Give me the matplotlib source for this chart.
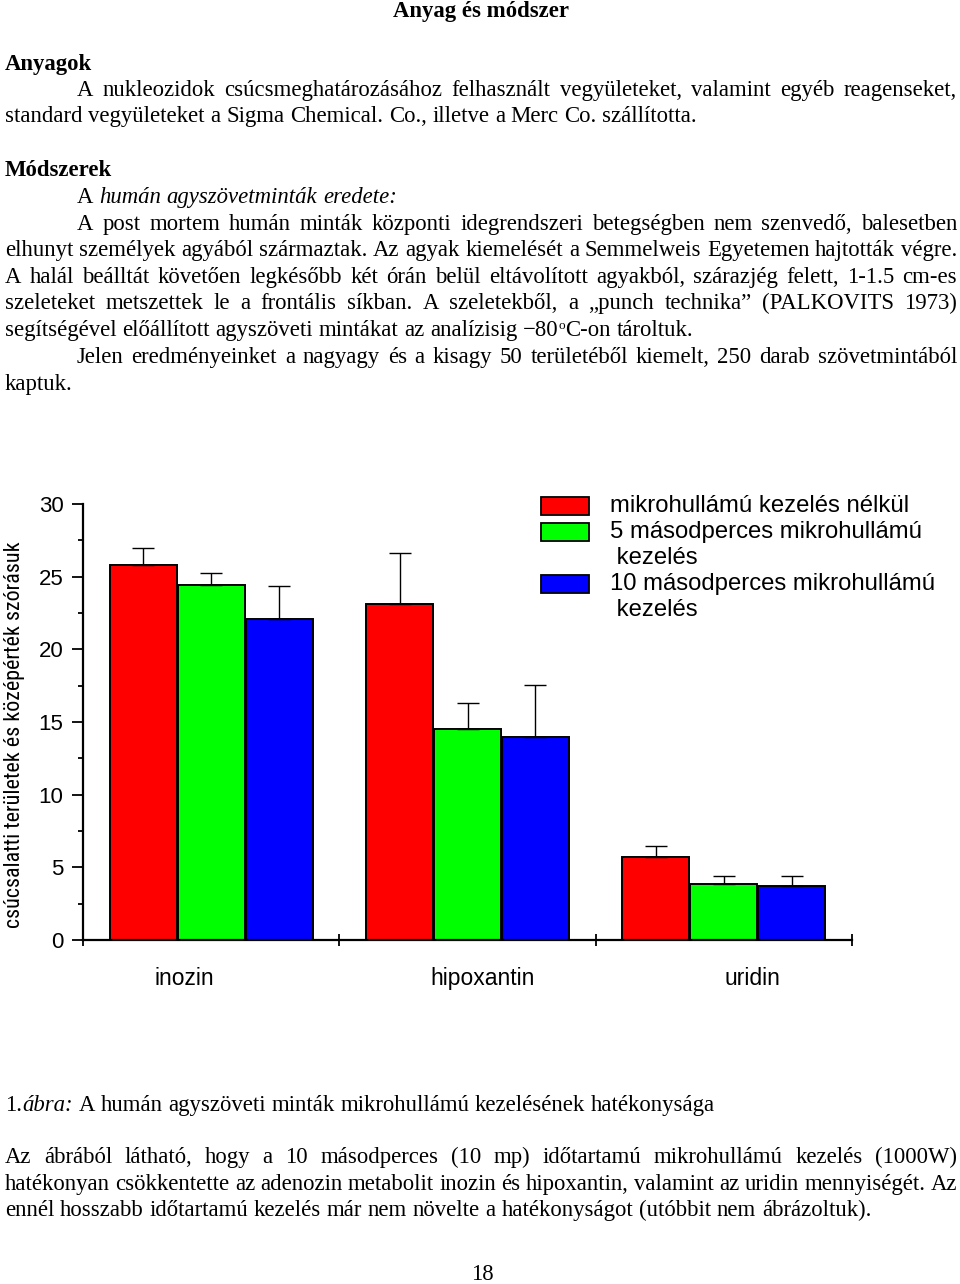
import matplotlib
matplotlib.use('Agg')
import matplotlib.pyplot as plt
from matplotlib.transforms import IdentityTransform
from matplotlib.patches import Rectangle
from matplotlib import font_manager
import numpy as np

# Adatok (az ábráról leolvasva)
groups = ['inozin', 'hipoxantin', 'uridin']
series = ['mikrohullámú kezelés nélkül',
          '5 másodperces mikrohullámú\n kezelés',
          '10 másodperces mikrohullámú\n kezelés']
red_vals = [25.8, 23.1, 5.7]
green_vals = [24.45, 14.5, 3.85]
blue_vals = [22.1, 14.0, 3.7]
red_err = [1.15, 3.55, 0.78]
green_err = [0.78, 1.78, 0.52]
blue_err = [2.23, 3.57, 0.67]
yticks = [0, 5, 10, 15, 20, 25, 30]
ylabel = 'csúcsalatti területek és középérték szórásuk'
colors = ['#ff0000', '#00ff00', '#0000ff']

W, H = 960, 1284
fig = plt.figure(figsize=(W / 100, H / 100), dpi=100)
ID = IdentityTransform()
SERIF = 'Liberation Serif'
SANS = 'Liberation Sans'
installed = {f.name for f in font_manager.fontManager.ttflist}
NARROW = SANS
for cand in ['Liberation Sans Narrow', 'DejaVu Sans Condensed', 'Roboto Condensed',
             'Open Sans Condensed']:
    if cand in installed:
        NARROW = cand
        break
plt.rcParams['font.family'] = SANS
BODY = 16.4
renderer = fig.canvas.get_renderer()
SPACE = 0.25 * BODY * 100 / 72


def put(x, y, s, style='normal', weight='normal', size=BODY, ha='left'):
    return fig.text(x, H - y, s, transform=ID, fontsize=size, family=SERIF,
                    style=style, weight=weight, ha=ha, va='baseline')


def wid(t):
    return t.get_window_extent(renderer).width


def tokens(text, style='normal'):
    return [(w, style, False) for w in text.split()]


def line(y, x0, toks, x1=None):
    # toks: (szo, stilus, hozzaragad)
    arts = []
    for w, st, join in toks:
        if st == 'sup':
            t = put(0, y - 7, w, size=BODY * 0.58)
        else:
            t = put(0, y, w, style=st)
        arts.append((t, join))
    widths = [wid(t) for t, _ in arts]
    nsp = sum(1 for _, j in arts[1:] if not j)
    gap = SPACE
    if x1 is not None and nsp > 0:
        gap = (x1 - x0 - sum(widths)) / nsp
    x = x0
    for i, ((t, join), w) in enumerate(zip(arts, widths)):
        if i > 0 and not join:
            x += gap
        t.set_x(x)
        x += w


# Szöveg felső rész
put(481, 17, 'Anyag és módszer', weight='bold', ha='center')
put(5, 70, 'Anyagok', weight='bold')
line(96, 77, tokens('A nukleozidok csúcsmeghatározásához felhasznált vegyületeket, valamint egyéb reagenseket,'), 957)
line(122, 5, tokens('standard vegyületeket a Sigma Chemical. Co., illetve a Merc Co. szállította.'))
put(5, 176, 'Módszerek', weight='bold')
line(203, 77, [('A', 'normal', False)] + tokens('humán agyszövetminták eredete:', 'italic'))
line(230, 77, tokens('A post mortem humán minták központi idegrendszeri betegségben nem szenvedő, balesetben'), 957)
line(256, 5, tokens('elhunyt személyek agyából származtak. Az agyak kiemelését a Semmelweis Egyetemen hajtották végre.'), 957)
line(283, 5, tokens('A halál beálltát követően legkésőbb két órán belül eltávolított agyakból, szárazjég felett, 1-1.5 cm-es'), 957)
line(309, 5, tokens('szeleteket metszettek le a frontális síkban. A szeletekből, a „punch technika” (PALKOVITS 1973)'), 957)
line(336, 5, tokens('segítségével előállított agyszöveti mintákat az analízisig −80')
     + [('o', 'sup', True), ('C-on', 'normal', True)] + tokens('tároltuk.'))
line(363, 77, tokens('Jelen eredményeinket a nagyagy és a kisagy 50 területéből kiemelt, 250 darab szövetmintából'), 957)
line(390, 5, tokens('kaptuk.'))

# Szöveg alsó rész
line(1111, 5, [('1.', 'normal', False), ('ábra:', 'italic', True)]
     + tokens('A humán agyszöveti minták mikrohullámú kezelésének hatékonysága'))
line(1163, 5, tokens('Az ábrából látható, hogy a 10 másodperces (10 mp) időtartamú mikrohullámú kezelés (1000W)'), 957)
line(1190, 5, tokens('hatékonyan csökkentette az adenozin metabolit inozin és hipoxantin, valamint az uridin mennyiségét. Az'), 957)
line(1216, 5, tokens('ennél hosszabb időtartamú kezelés már nem növelte a hatékonyságot (utóbbit nem ábrázoltuk).'))
put(482, 1280, '18', ha='center')

# Diagram
ax = fig.add_axes([83 / W, 344 / H, 769 / W, 436 / H])
x = np.arange(len(groups)) + 0.5
off = 0.265
bw = 0.262
vals = [red_vals, green_vals, blue_vals]
errs = [red_err, green_err, blue_err]
for i in range(3):
    xs = x + (i - 1) * off
    ax.bar(xs, vals[i], bw, color=colors[i], edgecolor='black', linewidth=1.4, zorder=2)
    ax.errorbar(xs, vals[i], yerr=[np.zeros(3), errs[i]], fmt='none', ecolor='black',
                elinewidth=1.0, capsize=8, capthick=1.0, zorder=3)

ax.set_xlim(0, 3)
ax.set_ylim(0, 30)
for s in ['top', 'right']:
    ax.spines[s].set_visible(False)
for s in ['left', 'bottom']:
    ax.spines[s].set_linewidth(1.6)
ax.set_yticks(yticks)
ax.set_yticklabels([str(v) for v in yticks])
ax.set_yticks(np.arange(2.5, 30, 5), minor=True)
ax.tick_params(axis='y', which='major', length=8, width=1.3, direction='out', labelsize=16, pad=6)
ax.tick_params(axis='y', which='minor', length=3.5, width=1.3, direction='out')
ax.set_xticks([0, 1, 2, 3])
ax.set_xticklabels([])
ax.tick_params(axis='x', which='major', length=9, width=1.3, direction='inout')

label_pos = [0.394, 1.557, 2.61]
for xp, g in zip(label_pos, groups):
    ax.text(xp, -2.65, g, ha='center', va='center', fontsize=16.5, clip_on=False)

ysize = 15.8 if NARROW != SANS else 14
fig.text(15, H - 735, ylabel, transform=ID, rotation=90, ha='center', va='center',
         family=NARROW, fontsize=ysize)

# Jelmagyarázat
box_y = [497, 523, 575]
for c, by in zip(colors, box_y):
    fig.add_artist(Rectangle((541, H - by - 18), 48, 18, transform=ID,
                             facecolor=c, edgecolor='black', linewidth=1.3))
leg_lines = [(610, 506, series[0].split('\n')[0])]
leg_lines += [(610, 532, series[1].split('\n')[0]), (610, 558, series[1].split('\n')[1])]
leg_lines += [(610, 584, series[2].split('\n')[0]), (610, 610, series[2].split('\n')[1])]
for lx, ly, s in leg_lines:
    fig.text(lx, H - ly, s, transform=ID, ha='left', va='center', fontsize=17.2, family=SANS)

fig.savefig('out.png', dpi=100)
